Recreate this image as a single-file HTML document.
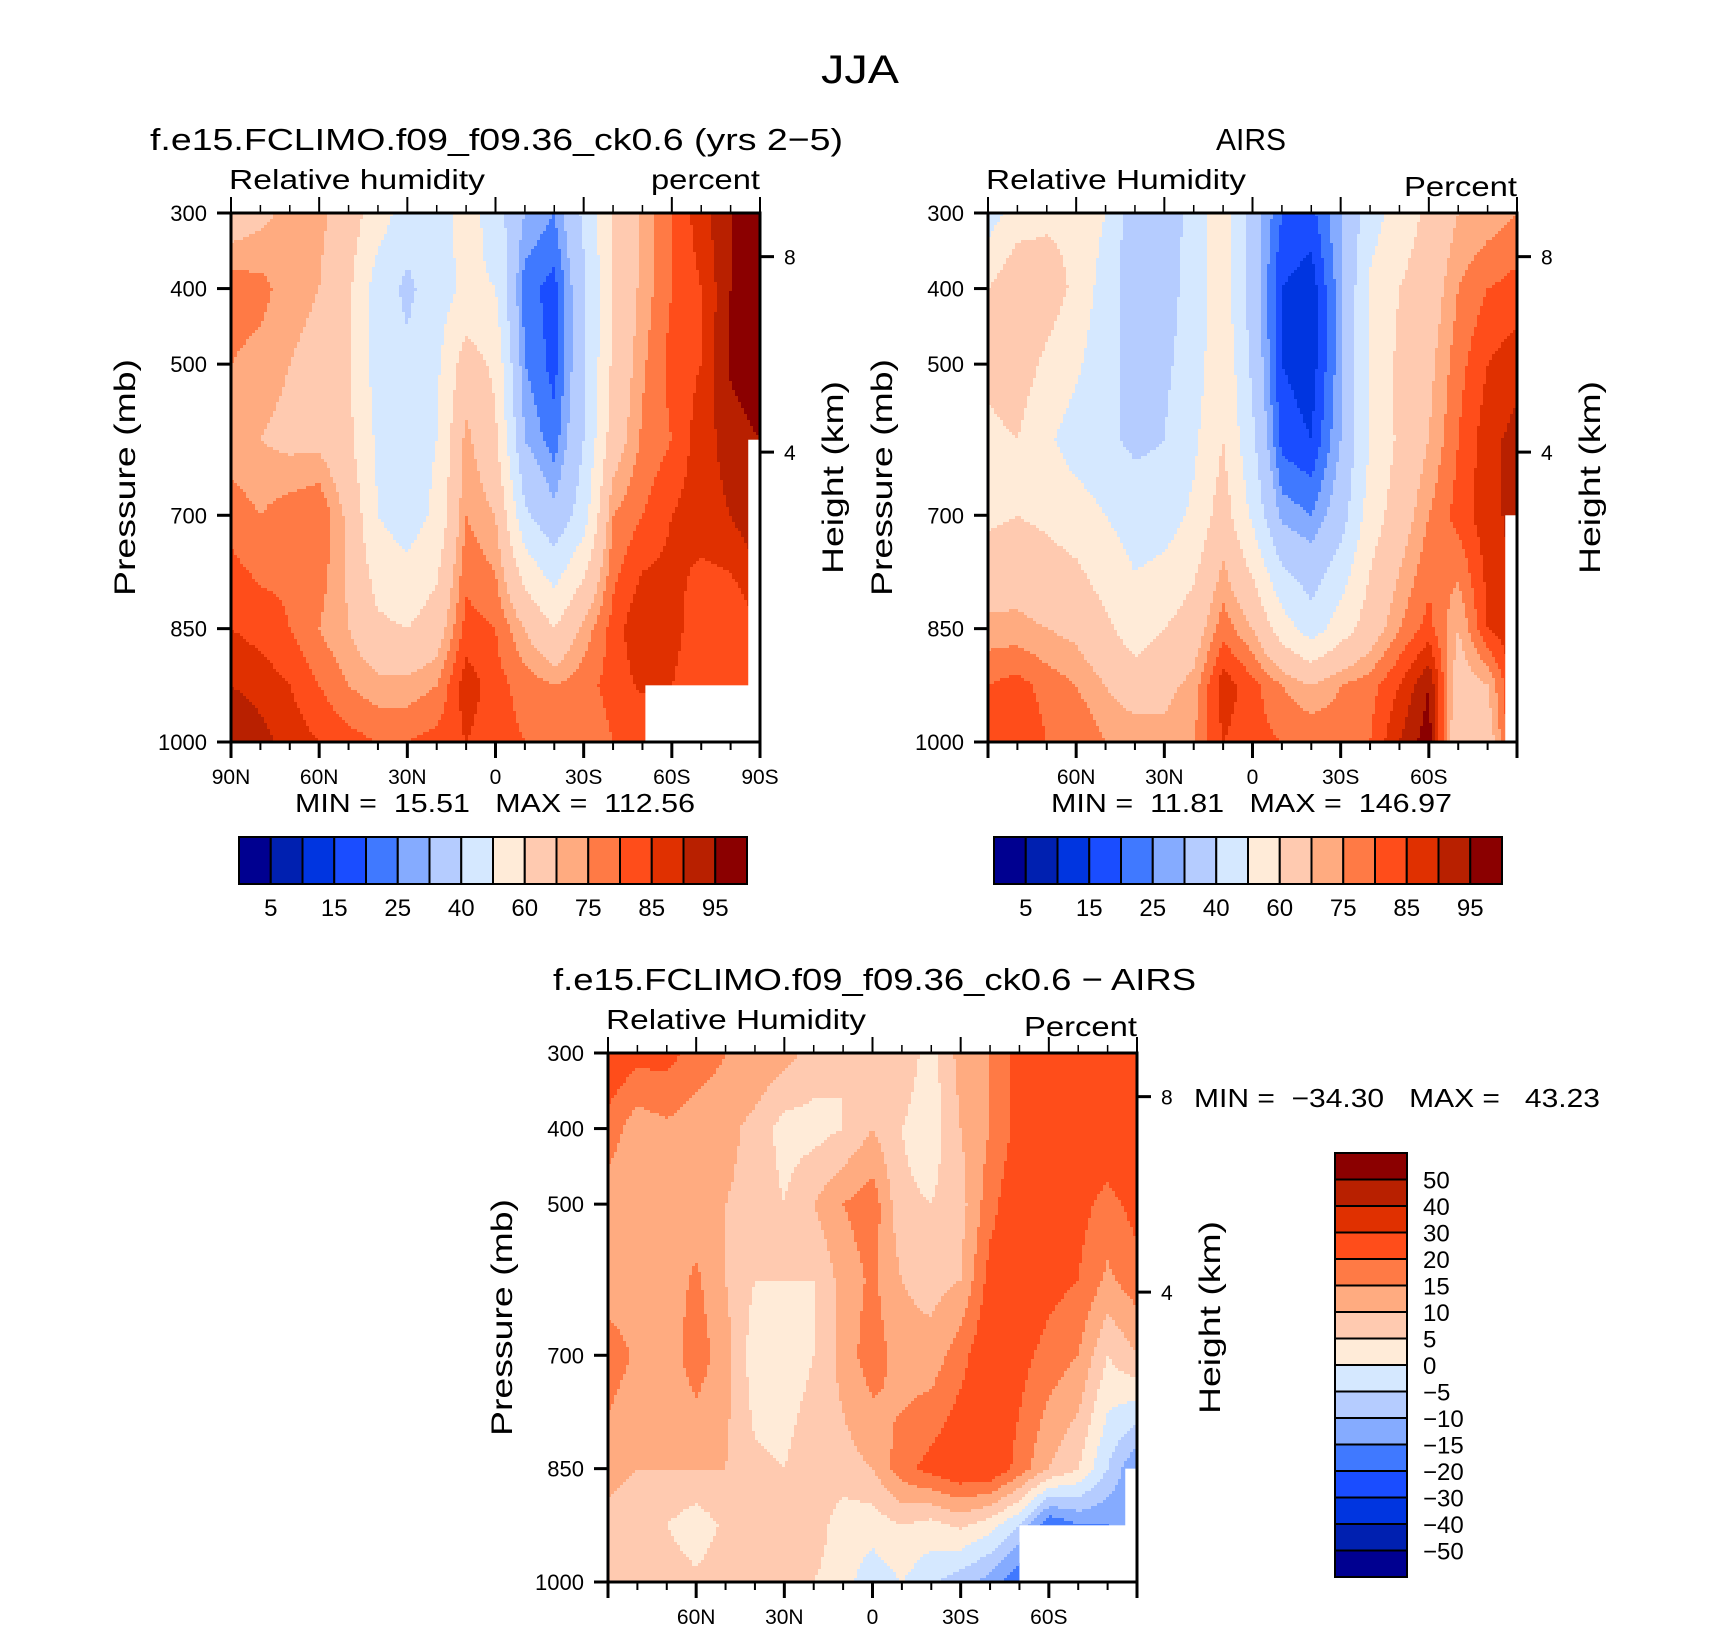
<!DOCTYPE html>
<html><head><meta charset="utf-8">
<style>
html,body{margin:0;padding:0;background:#fff;}
svg{display:block;font-family:"Liberation Sans",sans-serif;}
</style></head>
<body>
<svg id="fig" width="1710" height="1631" viewBox="0 0 1710 1631" xmlns="http://www.w3.org/2000/svg">
<text x="860" y="83" font-size="40" text-anchor="middle" textLength="78" lengthAdjust="spacingAndGlyphs">JJA</text>
</svg>
<script>
// ---------------- DATA ----------------
const lats = [90,80,70,60,50,40,30,20,10,0,-10,-20,-30,-40,-50,-60,-70,-80,-90];
const plevs = [300,400,500,600,700,850,925,1000];
const rhLevels = [5,10,15,20,25,30,40,50,60,70,75,80,85,90,95];
const rhTickLabels = ["5","15","25","40","60","75","85","95"];
const diffLevels = [-50,-40,-30,-20,-15,-10,-5,0,5,10,15,20,30,40,50];
const diffTickLabels = ["-50","-40","-30","-20","-15","-10","-5","0","5","10","15","20","30","40","50"];
const palette = ["#000090","#0020b0","#0035e0","#1a4dff","#4079ff","#85abff","#b5ccff","#d5e8ff","#ffebd8","#ffcab0","#ffab80","#ff7a45","#ff4d1a","#e03000","#b82000","#8b0000"];
// model RH: rows = plevs, cols = lats
const modelRH = [
 [65,68,72,72,65,55,45,45,55,45,30,25,42,60,72,80,88,95,100],
 [78,77,72,70,62,45,38,45,52,50,22,18,38,60,72,80,85,95,100],
 [75,73,70,68,62,45,42,48,65,58,25,18,38,62,74,82,85,96,100],
 [72,70,68,68,62,48,45,50,72,62,30,22,40,65,76,80,88,92,95],
 [78,75,78,80,68,50,45,52,75,70,42,32,45,75,80,85,88,90,95],
 [85,83,80,75,70,62,60,65,82,80,70,60,72,82,90,88,80,80,85],
 [90,88,85,80,75,72,72,75,88,82,78,75,78,82,86,85,80,80,85],
 [95,92,88,85,82,80,80,82,85,82,80,78,76,80,80,80,80,80,85]
];
const airsRH = [
 [45,55,58,58,50,32,32,45,55,35,20,18,30,45,55,62,70,72,75],
 [60,68,65,58,45,35,35,45,55,35,15,12,28,52,60,65,75,80,82],
 [62,65,58,52,42,38,38,45,58,38,15,12,28,52,62,68,78,85,88],
 [58,60,52,45,42,38,40,48,60,42,18,15,30,50,62,70,80,88,92],
 [58,60,58,55,50,45,45,52,65,48,28,25,35,55,65,75,82,88,92],
 [72,72,70,68,62,55,60,65,78,70,55,45,55,65,75,82,70,85,90],
 [80,82,78,75,70,65,68,72,88,82,75,70,75,78,85,95,65,70,88],
 [80,85,80,80,75,75,72,75,85,82,80,80,78,80,90,98,60,65,88]
];
const diffRH = [
 [25,22,22,18,15,15,12,8,5,10,8,3,12,15,22,25,25,28,30],
 [18,12,14,12,12,8,3,3,5,10,5,2,10,15,22,25,25,25,30],
 [12,10,12,12,10,8,5,10,15,18,6,5,8,18,25,25,22,18,22],
 [12,12,12,16,10,5,5,5,12,16,10,8,10,22,25,22,20,14,18],
 [18,14,12,18,12,2,2,5,12,18,12,12,18,25,22,18,15,5,10],
 [12,10,10,10,10,6,5,8,8,10,18,22,25,25,18,10,5,-5,-15],
 [8,6,5,2,6,8,6,8,2,2,5,3,6,2,-5,-20,-15,-15,-15],
 [10,8,8,6,8,8,8,5,2,-3,0,-4,-8,-12,-20,-25,-20,-15,-15]
];
const statsModel = ["15.51","112.56"];
const statsAirs = ["11.81","146.97"];
const statsDiff = ["\u221234.30","43.23"];

// ---------------- HELPERS ----------------
const NS="http://www.w3.org/2000/svg";
const svg=document.getElementById('fig');
function mk(tag,attrs,parent){const e=document.createElementNS(NS,tag);for(const k in attrs)e.setAttribute(k,attrs[k]);(parent||svg).appendChild(e);return e;}
function txt(s,attrs,parent){const e=mk('text',attrs,parent);e.textContent=s;return e;}
const PW=529,PH=529;
function xScale(x0,lat){return x0+(90-lat)/180*PW;}
function yScale(y0,p){return y0+(p-300)/700*PH;}
function sample(grid,lat,p){
  let fi=(90-lat)/10; fi=Math.max(0,Math.min(lats.length-1.0001,fi));
  let pi=0; while(pi<plevs.length-2 && p>plevs[pi+1]) pi++;
  let fp=(p-plevs[pi])/(plevs[pi+1]-plevs[pi]); fp=Math.max(0,Math.min(1,fp));
  const i=Math.floor(fi), t=fi-i;
  const a=grid[pi][i]*(1-t)+grid[pi][i+1]*t;
  const b=grid[pi+1][i]*(1-t)+grid[pi+1][i+1]*t;
  return a*(1-fp)+b*fp;
}
function levelIndex(v,levels){let k=0;while(k<levels.length&&v>=levels[k])k++;return k;}

function drawField(g,grid,levels,x0,y0){
  const step=3;
  for(let py=0;py<PH;py+=step){
    const p=300+(py+step/2)/PH*700;
    let runStart=0,runC=-1;
    const cols=[];
    for(let px=0;px<PW;px+=step){cols.push(px);}
    cols.push(PW);
    for(let ci=0;ci<cols.length;ci++){
      const px=cols[ci];
      let c=-1;
      if(ci<cols.length-1){const lat=90-(px+step/2)/PW*180;c=levelIndex(sample(grid,lat,p),levels);}
      if(c!==runC){
        if(runC>=0){
          const r=mk('rect',{x:x0+runStart,y:y0+py,width:px-runStart+0.6,height:step+0.6,fill:palette[runC]},g);
          
          
        }
        runStart=px;runC=c;
      }
    }
  }
}

function drawPanel(opt){
  const g=mk('g',{});
  
  
  const x0=opt.x0,y0=opt.y0;
  const clipId=opt.name+'-clip';
  const defs=mk('defs',{},g);
  const cp=mk('clipPath',{id:clipId},defs);
  mk('rect',{x:x0,y:y0,width:PW,height:PH},cp);
  const fg=mk('g',{'clip-path':'url(#'+clipId+')'},g);
  
  
  drawField(fg,opt.grid,opt.levels,x0,y0);
  opt.masks.forEach(m=>{
    const r=mk('rect',{x:xScale(x0,m[0]),y:yScale(y0,m[1]),width:xScale(x0,m[2])-xScale(x0,m[0]),height:yScale(y0,1000)-yScale(y0,m[1]),fill:'#fff'},fg);
    
    
  });
  const frame=mk('rect',{x:x0,y:y0,width:PW,height:PH,fill:'none',stroke:'#000','stroke-width':3},g);
  
  
  for(let lat=90;lat>=-90;lat-=10){
    const x=xScale(x0,lat); const major=(lat%30===0);
    const L=major?16:8;
    mk('line',{x1:x,y1:y0+PH,x2:x,y2:y0+PH+L,stroke:'#000','stroke-width':major?3:2},g);
    mk('line',{x1:x,y1:y0,x2:x,y2:y0-L,stroke:'#000','stroke-width':major?2:1.5},g);
    if(major&&(opt.endLabels||Math.abs(lat)<90)){
      const s=lat===0?'0':Math.abs(lat)+(lat>0?'N':'S');
      const t=txt(s,{x:x,y:y0+PH+42,'font-size':21,'text-anchor':'middle'},g);
      
      
    }
  }
  [300,400,500,700,850,1000].forEach(p=>{
    const y=yScale(y0,p);
    mk('line',{x1:x0-14,y1:y,x2:x0,y2:y,stroke:'#000','stroke-width':3},g);
    const t=txt(String(p),{x:x0-24,y:y+8,'font-size':22,'text-anchor':'end'},g);
    
    
  });
  [[8,0.0825],[4,0.452]].forEach(h=>{
    const y=y0+h[1]*PH;
    mk('line',{x1:x0+PW,y1:y,x2:x0+PW+14,y2:y,stroke:'#000','stroke-width':3},g);
    const t=txt(String(h[0]),{x:x0+PW+24,y:y+8,'font-size':21,'text-anchor':'start'},g);
    
    
  });
  const yl=txt('Pressure (mb)',{x:0,y:0,'font-size':30,'text-anchor':'middle',textLength:237,lengthAdjust:'spacingAndGlyphs',transform:`translate(${x0-96},${y0+PH/2}) rotate(-90)`},g);
  
  
  const hl=txt('Height (km)',{x:0,y:0,'font-size':30,'text-anchor':'middle',textLength:193,lengthAdjust:'spacingAndGlyphs',transform:`translate(${x0+PW+83},${y0+PH/2}) rotate(-90)`},g);
  
  
  const tt=txt(opt.title,{x:opt.titleX,y:y0-63,'font-size':31,'text-anchor':opt.titleAnchor,textLength:opt.titleW,lengthAdjust:'spacingAndGlyphs'},g);
  
  
  const l1=txt(opt.left,{x:x0-2,y:y0-24,'font-size':28,'text-anchor':'start',textLength:opt.leftW,lengthAdjust:'spacingAndGlyphs'},g);
  
  
  const l2=txt(opt.right,{x:x0+PW,y:y0-24+opt.rdy,'font-size':28,'text-anchor':'end',textLength:opt.rightW,lengthAdjust:'spacingAndGlyphs'},g);
  
  
  if(opt.stats){
    const st=txt('',{x:opt.stats.x,y:opt.stats.y,'font-size':26,'text-anchor':'start',textLength:opt.stats.w,lengthAdjust:'spacingAndGlyphs'},g);
    st.textContent='MIN =  '+opt.stats.v[0]+'   MAX = '+(opt.stats.v[1].length<6?'  ':' ')+opt.stats.v[1];
    st.style.whiteSpace='pre';
    
    
  }
}

function hColorbar(x0,y0,w,h,ticks){
  const g=mk('g',{});
  
  
  const bw=w/palette.length;
  palette.forEach((c,i)=>{
    const r=mk('rect',{x:x0+i*bw,y:y0,width:bw,height:h,fill:c,stroke:'#000','stroke-width':2},g);
    
    
  });
  ticks.forEach((s,k)=>{
    const t=txt(s,{x:x0+(1+2*k)*bw,y:y0+h+32,'font-size':24,'text-anchor':'middle'},g);
    
    
  });
}
function vColorbar(x0,y0,w,h,labels){
  const g=mk('g',{});
  
  
  const bh=h/palette.length;
  palette.slice().reverse().forEach((c,i)=>{
    const r=mk('rect',{x:x0,y:y0+i*bh,width:w,height:bh,fill:c,stroke:'#000','stroke-width':2},g);
    
    
  });
  labels.slice().reverse().forEach((s,k)=>{
    const t=txt(s.replace('-','\u2212'),{x:x0+w+16,y:y0+(k+1)*bh+9,'font-size':24,'text-anchor':'start'},g);
    
    
  });
}

drawPanel({name:'model-panel',x0:231,y0:213,grid:modelRH,levels:rhLevels,endLabels:true,
  title:'f.e15.FCLIMO.f09_f09.36_ck0.6 (yrs 2\u22125)',titleX:150,titleAnchor:'start',titleW:693,
  left:'Relative humidity',leftW:256,right:'percent',rightW:109,rdy:0,
  masks:[[-51,925,-90],[-86,600,-90]],
  stats:{x:295,y:812,w:400,v:statsModel}});
drawPanel({name:'airs-panel',x0:988,y0:213,grid:airsRH,levels:rhLevels,endLabels:false,
  title:'AIRS',titleX:1251,titleAnchor:'middle',titleW:70,
  left:'Relative Humidity',leftW:260,right:'Percent',rightW:113,rdy:7,
  masks:[[-86,700,-90]],
  stats:{x:1051,y:812,w:401,v:statsAirs}});
drawPanel({name:'diff-panel',x0:608,y0:1053,grid:diffRH,levels:diffLevels,endLabels:false,
  title:'f.e15.FCLIMO.f09_f09.36_ck0.6 \u2212 AIRS',titleX:553,titleAnchor:'start',titleW:643,
  left:'Relative Humidity',leftW:260,right:'Percent',rightW:113,rdy:7,
  masks:[[-50,925,-90],[-86,850,-90]],
  stats:{x:1194,y:1107,w:406,v:statsDiff}});
hColorbar(239,837,508,47,rhTickLabels);
hColorbar(994,837,508,47,rhTickLabels);
vColorbar(1335,1153,72,424,diffTickLabels);
</script>
</body></html>
